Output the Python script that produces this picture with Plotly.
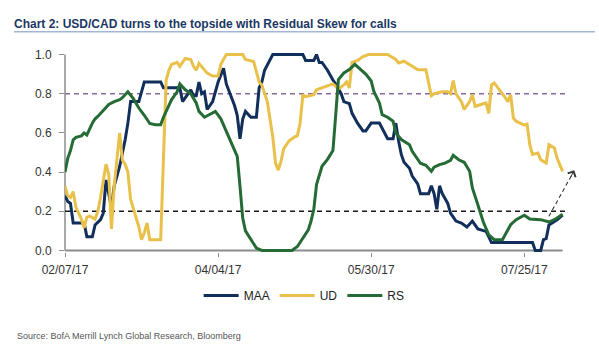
import plotly.graph_objects as go

# ---------------- data ----------------
maa_dates = ["2017-02-07","2017-02-08","2017-02-09","2017-02-10","2017-02-14","2017-02-15","2017-02-17","2017-02-18",
             "2017-02-20","2017-02-21","2017-02-22","2017-02-24","2017-02-25","2017-02-27","2017-03-01","2017-03-02",
             "2017-03-03","2017-03-06","2017-03-08","2017-03-14","2017-03-15","2017-03-21","2017-03-22","2017-03-24",
             "2017-03-25","2017-03-26","2017-03-27","2017-03-28","2017-03-29","2017-03-30","2017-03-31","2017-04-02",
             "2017-04-04","2017-04-06","2017-04-07","2017-04-10","2017-04-11","2017-04-12","2017-04-13","2017-04-14",
             "2017-04-16","2017-04-18","2017-04-19","2017-04-20","2017-04-21","2017-04-24","2017-05-05","2017-05-06",
             "2017-05-08","2017-05-09","2017-05-10","2017-05-11","2017-05-12","2017-05-14","2017-05-16","2017-05-17",
             "2017-05-19","2017-05-20","2017-05-22","2017-05-23","2017-05-25","2017-05-27","2017-05-28","2017-05-30",
             "2017-06-02","2017-06-03","2017-06-05","2017-06-07","2017-06-08","2017-06-09","2017-06-10","2017-06-11",
             "2017-06-13","2017-06-14","2017-06-16","2017-06-17","2017-06-20","2017-06-21","2017-06-22","2017-06-23",
             "2017-06-24","2017-06-25","2017-06-27","2017-06-28","2017-06-30","2017-07-02","2017-07-04","2017-07-06",
             "2017-07-08","2017-07-11","2017-07-12","2017-07-13","2017-07-28","2017-07-29","2017-07-31","2017-08-01",
             "2017-08-02","2017-08-03","2017-08-06","2017-08-08"]
maa_values = [0.28,0.25,0.24,0.14,0.14,0.07,0.07,0.13,
              0.157,0.19,0.36,0.22,0.33,0.43,0.565,0.65,
              0.76,0.76,0.86,0.86,0.83,0.83,0.76,0.80,
              0.82,0.79,0.79,0.86,0.80,0.81,0.72,0.76,
              0.86,0.93,0.85,0.74,0.69,0.57,0.67,0.71,
              0.68,0.68,0.83,0.86,0.92,1.0,1.0,0.97,
              0.97,0.97,1.0,0.96,0.96,0.92,0.87,0.85,
              0.80,0.76,0.75,0.70,0.65,0.61,0.61,0.65,
              0.65,0.625,0.57,0.57,0.65,0.56,0.49,0.45,
              0.42,0.38,0.34,0.29,0.29,0.33,0.29,0.21,
              0.33,0.29,0.24,0.19,0.15,0.14,0.12,0.15,
              0.11,0.097,0.07,0.04,0.04,0.0,0.0,0.055,
              0.06,0.13,0.157,0.18]

ud_dates = ["2017-02-07","2017-02-08","2017-02-09","2017-02-10","2017-02-11","2017-02-13","2017-02-14","2017-02-15",
            "2017-02-16","2017-02-18","2017-02-19","2017-02-20","2017-02-22","2017-02-23","2017-02-24","2017-02-25",
            "2017-02-27","2017-02-28","2017-03-01","2017-03-02","2017-03-03","2017-03-05","2017-03-06","2017-03-07",
            "2017-03-08","2017-03-09","2017-03-10","2017-03-14","2017-03-15","2017-03-16","2017-03-17","2017-03-18",
            "2017-03-20","2017-03-21","2017-03-23","2017-03-25","2017-03-26","2017-03-27","2017-03-28","2017-03-30",
            "2017-03-31","2017-04-02","2017-04-04","2017-04-05","2017-04-07","2017-04-13","2017-04-14","2017-04-17",
            "2017-04-18","2017-04-19","2017-04-20","2017-04-22","2017-04-24","2017-04-25","2017-04-26","2017-04-27",
            "2017-04-28","2017-04-30","2017-05-02","2017-05-03","2017-05-04","2017-05-05","2017-05-06","2017-05-09",
            "2017-05-10","2017-05-14","2017-05-16","2017-05-18","2017-05-20","2017-05-21","2017-05-22","2017-05-23",
            "2017-05-25","2017-05-27","2017-05-29","2017-06-05","2017-06-08","2017-06-09","2017-06-11","2017-06-14",
            "2017-06-16","2017-06-19","2017-06-20","2017-06-21","2017-06-22","2017-06-25","2017-06-27","2017-06-28",
            "2017-06-29","2017-06-30","2017-07-02","2017-07-03","2017-07-05","2017-07-06","2017-07-07","2017-07-09",
            "2017-07-11","2017-07-12","2017-07-13","2017-07-14","2017-07-16","2017-07-18","2017-07-19","2017-07-20",
            "2017-07-21","2017-07-22","2017-07-25","2017-07-26","2017-07-27","2017-07-28","2017-07-30","2017-07-31",
            "2017-08-02","2017-08-03","2017-08-05","2017-08-06","2017-08-08"]
ud_values = [0.33,0.28,0.27,0.30,0.22,0.16,0.115,0.17,
             0.175,0.16,0.20,0.27,0.44,0.39,0.11,0.33,
             0.60,0.46,0.44,0.40,0.26,0.17,0.12,0.055,
             0.09,0.14,0.055,0.055,0.45,0.87,0.92,0.95,
             0.96,0.94,0.98,0.975,0.94,0.92,0.955,0.92,
             0.905,0.89,0.89,0.95,1.0,1.0,0.975,0.965,
             0.906,0.86,0.845,0.76,0.58,0.446,0.41,0.455,
             0.52,0.56,0.58,0.585,0.65,0.795,0.785,0.795,
             0.82,0.84,0.85,0.825,0.845,0.86,0.83,0.96,
             0.97,0.99,1.0,1.0,0.975,0.957,0.966,0.94,
             0.923,0.923,0.864,0.79,0.80,0.81,0.81,0.80,
             0.867,0.80,0.76,0.72,0.76,0.795,0.736,0.744,
             0.753,0.70,0.845,0.855,0.82,0.78,0.76,0.795,
             0.676,0.66,0.64,0.645,0.54,0.49,0.497,0.463,
             0.446,0.54,0.523,0.47,0.404]

rs_dates = ["2017-02-07","2017-02-08","2017-02-09","2017-02-10","2017-02-11","2017-02-13","2017-02-14","2017-02-15",
            "2017-02-17","2017-02-18","2017-02-19","2017-02-21","2017-02-23","2017-02-25","2017-02-27","2017-02-28",
            "2017-03-02","2017-03-04","2017-03-06","2017-03-08","2017-03-10","2017-03-12","2017-03-14","2017-03-15",
            "2017-03-17","2017-03-18","2017-03-20","2017-03-21","2017-03-23","2017-03-25","2017-03-27","2017-03-28",
            "2017-03-30","2017-04-01","2017-04-03","2017-04-05","2017-04-07","2017-04-09","2017-04-11","2017-04-12",
            "2017-04-13","2017-04-14","2017-04-16","2017-04-18","2017-04-20","2017-05-01","2017-05-03","2017-05-05",
            "2017-05-07","2017-05-08","2017-05-09","2017-05-10","2017-05-12","2017-05-14","2017-05-16","2017-05-17",
            "2017-05-18","2017-05-20","2017-05-22","2017-05-24","2017-05-26","2017-05-28","2017-05-30","2017-05-31",
            "2017-06-02","2017-06-03","2017-06-05","2017-06-07","2017-06-08","2017-06-10","2017-06-13","2017-06-14",
            "2017-06-17","2017-06-19","2017-06-21","2017-06-22","2017-06-24","2017-06-26","2017-06-28","2017-06-29",
            "2017-07-01","2017-07-03","2017-07-05","2017-07-06","2017-07-08","2017-07-10","2017-07-12","2017-07-14",
            "2017-07-17","2017-07-20","2017-07-22","2017-07-25","2017-07-27","2017-07-31","2017-08-03","2017-08-05",
            "2017-08-08"]
rs_values = [0.40,0.47,0.51,0.565,0.577,0.585,0.60,0.59,
             0.65,0.672,0.684,0.715,0.745,0.76,0.77,0.78,
             0.81,0.775,0.727,0.69,0.648,0.642,0.642,0.68,
             0.74,0.77,0.81,0.85,0.82,0.80,0.753,0.71,
             0.68,0.693,0.71,0.672,0.61,0.54,0.48,0.33,
             0.165,0.10,0.055,0.012,0.0,0.0,0.02,0.063,
             0.105,0.15,0.21,0.336,0.43,0.465,0.51,0.69,
             0.872,0.906,0.923,0.95,0.923,0.90,0.865,0.81,
             0.753,0.693,0.68,0.66,0.60,0.566,0.54,0.506,
             0.445,0.435,0.404,0.425,0.438,0.446,0.46,0.486,
             0.463,0.45,0.404,0.319,0.233,0.145,0.08,0.055,
             0.055,0.131,0.157,0.18,0.16,0.157,0.145,0.157,
             0.185]

tick_dates = ["2017-02-07", "2017-04-04", "2017-05-30", "2017-07-25"]
tick_labels = ["02/07/17", "04/04/17", "05/30/17", "07/25/17"]
y_ticks = [0.0, 0.2, 0.4, 0.6, 0.8, 1.0]
ref_levels = [0.8, 0.2]
arrow_start = ("2017-08-03", 0.175)
arrow_end = ("2017-08-12 06:00", 0.41)

# ---------------- styles ----------------
NAVY = "#122f5c"
GOLD = "#e8c04a"
GREEN = "#256b35"
AXIS = "#8c8c8c"
FONT = "Liberation Sans, Arial, sans-serif"
first_day, last_day = "2017-02-07", "2017-08-08"

fig = go.Figure()
for name, xs, ys, col in [("MAA", maa_dates, maa_values, NAVY),
                          ("UD", ud_dates, ud_values, GOLD),
                          ("RS", rs_dates, rs_values, GREEN)]:
    fig.add_trace(go.Scatter(x=xs, y=ys, mode="lines", name=name,
                             line=dict(color=col, width=3), hoverinfo="skip"))

shapes = []
# reference dashed levels
for lvl, col in zip(ref_levels, ["#8a6a9c", "#1a1a1a"]):
    shapes.append(dict(type="line", xref="x", yref="y", x0=first_day, x1="2017-08-09",
                       y0=lvl, y1=lvl, line=dict(color=col, width=1.3, dash="5px,4px"), layer="below"))
# axis lines
shapes.append(dict(type="line", xref="x", yref="y", x0=first_day, x1=last_day, y0=0, y1=0,
                   line=dict(color=AXIS, width=2), layer="below"))
shapes.append(dict(type="line", xref="x domain", yref="y", x0=0, x1=0, y0=0, y1=1,
                   line=dict(color=AXIS, width=1.5), layer="below"))
# dashed arrow shaft
shapes.append(dict(type="line", xref="x", yref="y", x0=arrow_start[0], y0=arrow_start[1],
                   x1="2017-08-11 18:00", y1=0.395, line=dict(color="#333333", width=1.1, dash="4px,3px")))
# title underline
shapes.append(dict(type="line", xref="paper", yref="paper", x0=-0.0992, x1=1.031, y0=1.107, y1=1.107,
                   line=dict(color="#a3b5d4", width=1.5)))

annotations = [
    dict(x=arrow_end[0], y=arrow_end[1], xref="x", yref="y", ax=-4, ay=8, axref="pixel", ayref="pixel",
         showarrow=True, arrowhead=4, arrowsize=1.7, arrowwidth=1, arrowcolor="#333333", text=""),
    dict(text="Source: BofA Merrill Lynch Global Research, Bloomberg", xref="paper", yref="paper",
         x=-0.0982, y=-0.42, xanchor="left", yanchor="middle", showarrow=False,
         font=dict(family=FONT, size=9, color="#555555")),
]

fig.update_layout(
    width=599, height=354,
    margin=dict(l=65, r=20, t=53, b=102),
    paper_bgcolor="white", plot_bgcolor="white",
    title=dict(text="<b>Chart 2: USD/CAD turns to the topside with Residual Skew for calls</b>",
               xref="container", yref="container", x=14/599, xanchor="left",
               y=1 - 24/354, yanchor="middle",
               font=dict(family=FONT, size=12, color="#1b3763")),
    showlegend=True,
    legend=dict(orientation="h", x=0.26, xanchor="left", y=-0.218, yanchor="middle",
                font=dict(family=FONT, size=12, color="#222222"), bgcolor="rgba(0,0,0,0)",
                itemwidth=35, tracegroupgap=0),
    xaxis=dict(type="date", range=["2017-02-07", "2017-08-14"], showgrid=False, zeroline=False,
               showline=False, tickmode="array", tickvals=tick_dates, ticktext=tick_labels,
               ticks="outside", ticklen=4, tickcolor=AXIS, tickwidth=1, ticklabelstandoff=3,
               tickfont=dict(family=FONT, size=12, color="#333333")),
    yaxis=dict(range=[-0.008, 1.008], showgrid=False, zeroline=False, showline=False,
               tickmode="array", tickvals=y_ticks, tickformat=".1f",
               ticks="outside", ticklen=5, tickcolor=AXIS, tickwidth=1, ticklabelstandoff=5,
               tickfont=dict(family=FONT, size=12, color="#333333")),
    shapes=shapes, annotations=annotations,
)

fig.write_html("out.html")
